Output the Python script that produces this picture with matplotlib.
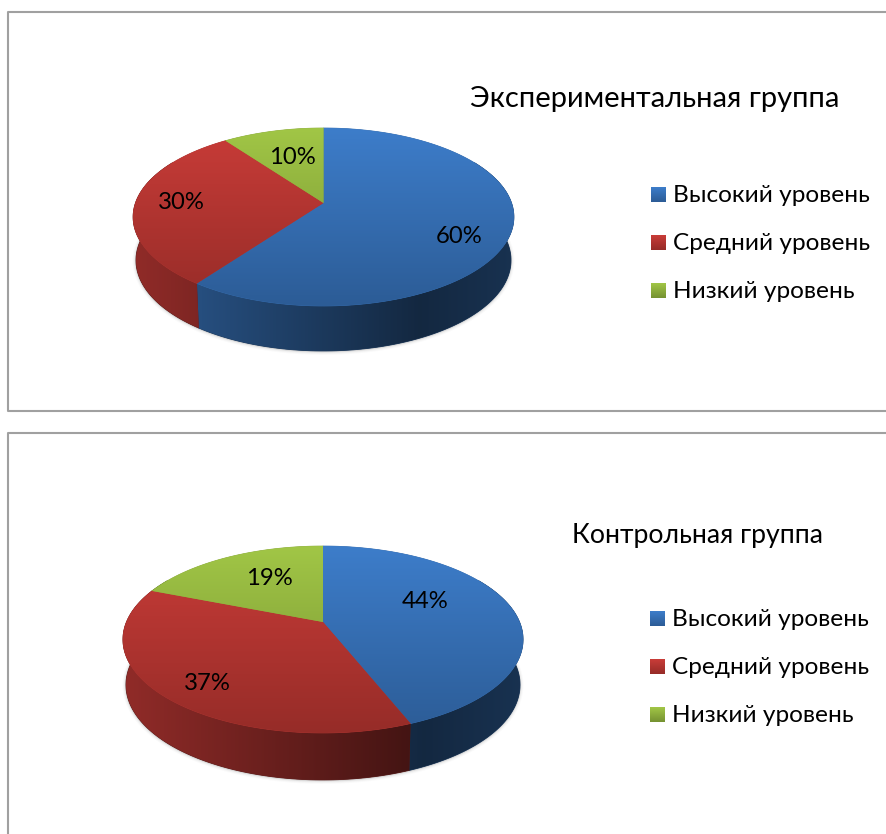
import matplotlib
matplotlib.use('Agg')
import matplotlib.pyplot as plt
from matplotlib.patches import Polygon
import numpy as np

plt.rcParams['font.family'] = ['Lato', 'Open Sans', 'DejaVu Sans']

levels = ['Высокий уровень', 'Средний уровень', 'Низкий уровень']
title_exp = 'Экспериментальная группа'
values_exp = [60, 30, 10]
title_ctrl = 'Контрольная группа'
values_ctrl = [44, 37, 19]

base_top = [(61, 125, 202), (201, 60, 56), (161, 198, 70)]
base_bot = [(44, 92, 150), (150, 44, 40), (118, 146, 50)]


def project(theta, pie, drop=False):
    # theta in degrees clockwise from the top, perspective onto the screen
    t = np.radians(theta)
    X, Y = np.sin(t), np.cos(t)
    d = 1 + pie['p'] * Y
    x = pie['cx'] + pie['A'] * X / d
    y = pie['cy'] - pie['B'] * Y / d
    if drop:
        x = pie['cx'] + (x - pie['cx']) * 0.985
        y = y + pie['depth'] - 2 * Y
    return x, y


def side_shade(frac):
    return np.interp(frac, [0, 0.75, 1], [0.72, 0.32, 0.40])


def draw_pie(ax, values, pie):
    total = sum(values)
    left = pie['cx'] - pie['A'] * 1.02
    right = pie['cx'] + pie['A'] * 1.02
    top = pie['cy'] - pie['B'] / (1 + pie['p'])
    bottom = pie['cy'] + pie['B'] / (1 - pie['p'])

    # soft shadow along the lower edge
    th = np.linspace(62, 298, 200)
    sx, sy = project(th, pie, drop=True)
    for lw, a in [(5, 0.02), (3.5, 0.03), (2, 0.05), (1, 0.07)]:
        ax.plot(sx, sy + 0.5, color='black', lw=lw, alpha=a, zorder=1, solid_capstyle='round')

    start = 0
    for i, v in enumerate(values):
        end = start + 360 * v / total
        th = np.linspace(start, end, 150)

        # outer wall, only the part that can be seen
        lo, hi = max(start, 60), min(end, 300)
        if hi > lo:
            ts = np.linspace(lo, hi, 120)
            x0, y0 = project(ts, pie)
            x1, y1 = project(ts, pie, drop=True)
            pts = np.column_stack([np.r_[x0, x1[::-1]], np.r_[y0, y1[::-1]]])
            frac = np.linspace(0, 1, 256)
            grad = np.outer(side_shade(frac), np.array(base_top[i]) / 255)[None, :, :]
            mid = np.array(base_top[i]) / 255 * 0.45
            ax.add_patch(Polygon(pts, facecolor=mid, edgecolor=mid, lw=0.6, zorder=1.9))
            im = ax.imshow(np.clip(grad, 0, 1), extent=(left, right, bottom + pie['depth'] + 4, top),
                           aspect='auto', zorder=2, interpolation='bilinear')
            im.set_clip_path(Polygon(pts, transform=ax.transData))

        # top face with its vertical gradient
        x, y = project(th, pie)
        pts = np.column_stack([np.r_[pie['cx'], x], np.r_[pie['cy'], y]])
        frac = np.linspace(0, 1, 256)[:, None]
        grad = (1 - frac) * np.array(base_top[i]) + frac * np.array(base_bot[i])
        grad = (grad / 255)[:, None, :]
        mid = (np.array(base_top[i]) + np.array(base_bot[i])) / 510
        ax.add_patch(Polygon(pts, facecolor=mid, edgecolor=mid, lw=0.5, zorder=2.9))
        im = ax.imshow(grad, extent=(left, right, bottom, top), aspect='auto', zorder=3,
                       interpolation='bilinear')
        im.set_clip_path(Polygon(pts, transform=ax.transData))
        start = end


def draw_legend(ax, x, ys):
    for i, name in enumerate(levels):
        y = ys[i]
        frac = np.linspace(0, 1, 32)[:, None]
        grad = (1 - frac) * np.array(base_top[i]) + frac * np.array(base_bot[i])
        ax.imshow((grad / 255)[:, None, :], extent=(x, x + 15, y + 7.5, y - 7.5), aspect='auto',
                  zorder=3, interpolation='bilinear')
        ax.text(x + 22, y - 1, name, fontsize=17.6, va='center_baseline', ha='left', color='black', zorder=4)


fig = plt.figure(figsize=(8.86, 8.34), dpi=100)
ax = fig.add_axes([0, 0, 1, 1])
frame = '#a0a0a0'

# panel frames run off the right and bottom edge
ax.plot([886, 8.5, 8.5, 886], [12, 12, 411, 411], color=frame, lw=1.5, zorder=1)
ax.plot([886, 8.5, 8.5], [433, 433, 834], color=frame, lw=1.5, zorder=1)

pie_exp = dict(cx=323.5, cy=203, A=188, B=86.8, p=0.157, depth=43)
pie_ctrl = dict(cx=323, cy=622, A=196.5, B=90.2, p=0.187, depth=45)
draw_pie(ax, values_exp, pie_exp)
draw_pie(ax, values_ctrl, pie_ctrl)

label_pos_exp = [(459, 236), (181, 202), (292, 157)]
label_pos_ctrl = [(425, 601), (207, 683), (269, 578)]
for vals, positions in [(values_exp, label_pos_exp), (values_ctrl, label_pos_ctrl)]:
    for v, (x, y) in zip(vals, positions):
        ax.text(x, y + 0.5, f'{v}%', fontsize=17.2, ha='center', va='center', color='black', zorder=5)

ax.text(470, 99, title_exp, fontsize=21, ha='left', va='center', color='black')
ax.text(572, 535, title_ctrl, fontsize=19.2, ha='left', va='center', color='black')

draw_legend(ax, 651, [194.5, 242.5, 290.5])
draw_legend(ax, 650, [619, 667, 715])

ax.set_xlim(0, 886)
ax.set_ylim(834, 0)
ax.axis('off')
fig.savefig('out.png', dpi=100)
